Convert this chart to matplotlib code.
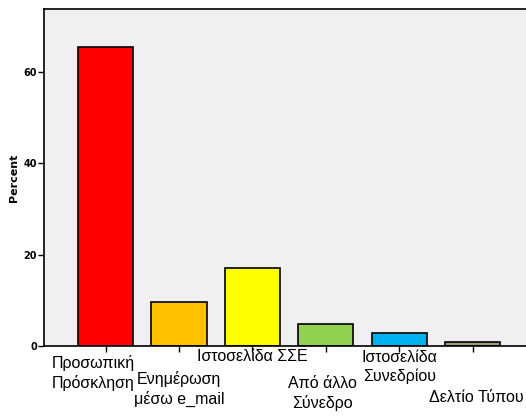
import matplotlib
matplotlib.use("Agg")
import matplotlib.pyplot as plt
from matplotlib import transforms

# data
categories = ["Προσωπική\nΠρόσκληση", "Ενημέρωση\nμέσω e_mail", "Ιστοσελίδα ΣΣΕ",
              "Από άλλο\nΣύνεδρο", "Ιστοσελίδα\nΣυνεδρίου", "Δελτίο Τύπου"]
percent = [65.4, 9.6, 17.1, 4.8, 2.9, 0.9]
colors = ["#FF0000", "#FFC000", "#FFFF00", "#92D050", "#00B0F0", "#A09C78"]
yticks = [0, 20, 40, 60]

# label placement (staggered the SPSS way): top in pixels, x shift in bar units
label_top_px = [355, 371, 349, 376, 350, 390]
label_dx = [-0.17, 0.0, 0.0, -0.05, 0.0, 0.05]

W, H = 526, 416
fig = plt.figure(figsize=(W / 100, H / 100), dpi=100)
ax = fig.add_axes([44 / W, 70 / H, 485 / W, 337 / H])
ax.set_facecolor("#F0F0F0")

x = list(range(len(categories)))
ax.bar(x, percent, width=0.75, color=colors, edgecolor="black", linewidth=1.2, zorder=2)

ax.set_xlim(-0.84, 5.77)
ax.set_ylim(0, 73.7)
ax.set_yticks(yticks)
ax.set_yticklabels([str(v) for v in yticks], fontsize=7, fontweight="bold")
ax.set_xticks(x)
ax.set_xticklabels([])
ax.tick_params(axis="both", direction="out", length=4, width=1, color="black", pad=1)
for s in ax.spines.values():
    s.set_color("black")
    s.set_linewidth(1.2)
ax.set_ylabel("Percent", fontsize=8, fontweight="bold", labelpad=3)

trans = transforms.blended_transform_factory(ax.transData, fig.transFigure)
for xi, lab, top, dx in zip(x, categories, label_top_px, label_dx):
    ax.text(xi + dx, 1 - top / H, lab, transform=trans, ha="center", va="top",
            fontsize=11.5, family="Liberation Sans", linespacing=1.3, clip_on=False)

fig.savefig("out.png", dpi=100)
